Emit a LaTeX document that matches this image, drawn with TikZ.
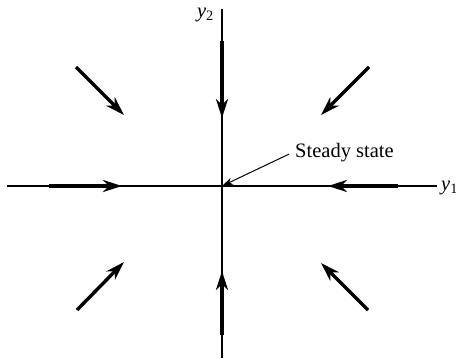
\documentclass[tikz,border=0pt]{standalone}
\usepackage{fontspec}
\setmainfont{Liberation Serif}
\usetikzlibrary{arrows.meta}

\begin{document}
\begin{tikzpicture}[x=1pt, y=-1pt,
  every node/.style={font=\fontsize{20.5}{24}\selectfont, inner sep=0pt},
  axisline/.style={line width=1.1pt},
  flow/.style={line width=3.4pt, -{Stealth[length=19pt, width=12pt, inset=6pt]}},
  leader/.style={line width=1pt, -{Stealth[length=11pt, width=7pt, inset=3pt]}}]
\useasboundingbox (0,0) rectangle (456,359);

% Axes
\coordinate (origin) at (222,186);
\draw[axisline] (7,186) -- (437,186);
\draw[axisline] (222,9) -- (222,358);
\node[anchor=base west] (ylabA) at (441,190) {\textit{y}\textsubscript{1}};
\node[anchor=base east] (ylabB) at (214,17) {\textit{y}\textsubscript{2}};

% Flow towards the steady state, on the axes
\draw[flow] (49,186) -- (122,186);
\draw[flow] (398,186) -- (328,186);
\draw[flow] (222,41) -- (222,118);
\draw[flow] (222,335) -- (222,271);

% Flow in the quadrants
\draw[flow] (76,67) -- (124,115);
\draw[flow] (369,67) -- (321,115);
\draw[flow] (77,310) -- (124,262);
\draw[flow] (368,310) -- (321,263);

% Label
\node[anchor=base west] (steady) at (295,157) {Steady state};
\draw[leader] ([xshift=-6pt, yshift=-2pt]steady.west) -- (origin);

\end{tikzpicture}
\end{document}
